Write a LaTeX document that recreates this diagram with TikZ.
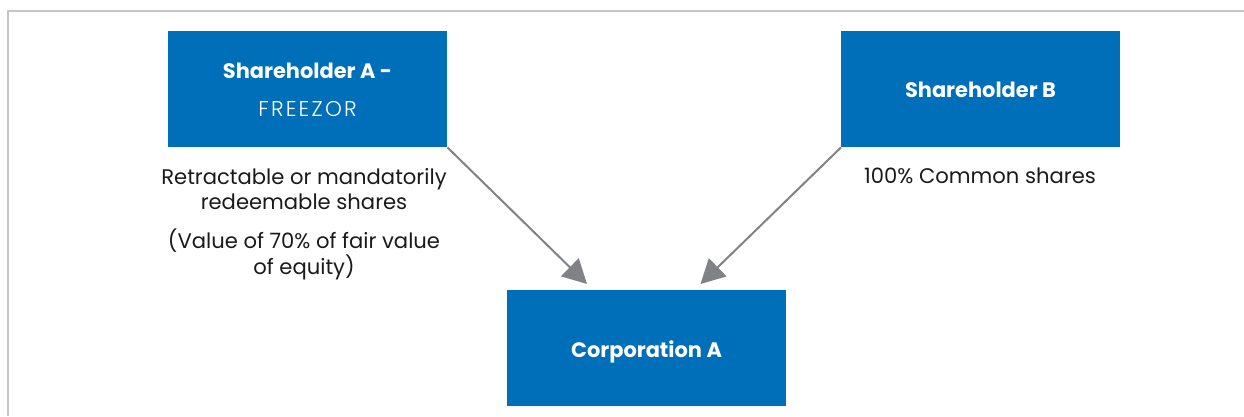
\documentclass[tikz,border=0pt]{standalone}
\usepackage{fontspec}
\setmainfont{Poppins}
\newfontfamily\lightfont{Poppins Light}[LetterSpace=10]
\usetikzlibrary{arrows.meta}
\definecolor{boxblue}{RGB}{0,111,185}
\definecolor{arrowgray}{RGB}{128,130,133}
\definecolor{framegray}{RGB}{198,198,198}
\definecolor{txt}{RGB}{26,26,26}
\begin{document}
\begin{tikzpicture}[x=1bp,y=-1bp,
  bluebox/.style={fill=boxblue,draw=none,inner sep=0pt,minimum width=279bp,minimum height=116bp,anchor=north west},
  boxtext/.style={text=white,inner sep=0pt,anchor=base,font=\fontsize{21}{25}\selectfont\bfseries},
  labeltext/.style={text=txt,inner sep=0pt,anchor=base,font=\fontsize{21.2}{25}\selectfont},
  conn/.style={draw=arrowgray,line width=2bp,-{Triangle[length=24bp,width=25bp]}}]
\useasboundingbox (0,0) rectangle (1244,416);
\draw[framegray,line width=2.2bp] (8.3,416) -- (8.3,10.7) -- (1244,10.7);
\node[bluebox] (A) at (168,31) {};
\node[bluebox] (B) at (841,31) {};
\node[bluebox] (C) at (507,290) {};
\node[boxtext] (At1) at (307.5,78) {Shareholder A -};
\node[boxtext,font=\fontsize{21.5}{25}\selectfont\lightfont] (At2) at (307.5,116) {FREEZOR};
\node[boxtext] (Bt) at (980.5,97) {Shareholder B};
\node[boxtext] (Ct) at (646.5,357) {Corporation A};
\node[labeltext] (la1) at (304,184) {Retractable or mandatorily};
\node[labeltext] (la2) at (304,209) {redeemable shares};
\node[labeltext] (la3) at (304,248) {(Value of 70\% of fair value};
\node[labeltext] (la4) at (304,274) {of equity)};
\node[labeltext] (lb1) at (980,183) {100\% Common shares};
\coordinate (tipA) at (587,284);
\coordinate (tipB) at (700.5,284);
\draw[conn] (A.south east) -- (tipA);
\draw[conn] (B.south west) -- (tipB);
\end{tikzpicture}
\end{document}
